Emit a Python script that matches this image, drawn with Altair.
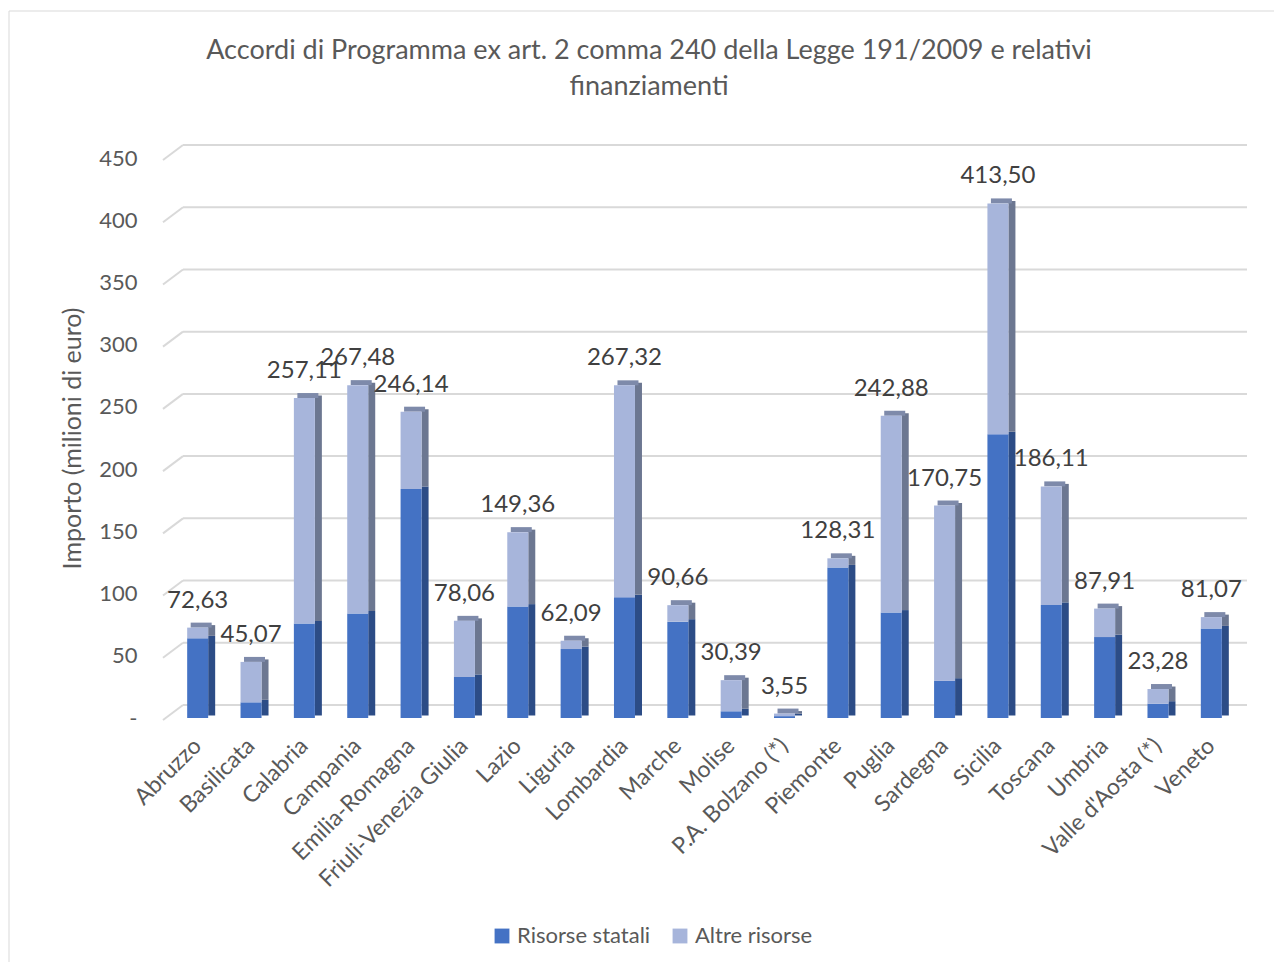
import altair as alt
import pandas as pd

regions = ["Abruzzo", "Basilicata", "Calabria", "Campania", "Emilia-Romagna",
           "Friuli-Venezia Giulia", "Lazio", "Liguria", "Lombardia", "Marche",
           "Molise", "P.A. Bolzano (*)", "Piemonte", "Puglia", "Sardegna",
           "Sicilia", "Toscana", "Umbria", "Valle d'Aosta (*)", "Veneto"]
totals = [72.63, 45.07, 257.11, 267.48, 246.14, 78.06, 149.36, 62.09, 267.32, 90.66,
          30.39, 3.55, 128.31, 242.88, 170.75, 413.50, 186.11, 87.91, 23.28, 81.07]
statali = [64.0, 12.6, 76.0, 84.0, 184.0, 33.0, 89.5, 55.4, 97.0, 77.4,
           5.4, 1.5, 121.0, 84.7, 30.0, 228.0, 90.9, 65.0, 11.5, 72.0]
altre = [8.63, 32.47, 181.11, 183.48, 62.14, 45.06, 59.86, 6.69, 170.32, 13.26,
         24.99, 2.05, 7.31, 158.18, 140.75, 185.50, 95.21, 22.91, 11.78, 9.07]
series = ["Risorse statali", "Altre risorse"]
y_ticks = [0, 50, 100, 150, 200, 250, 300, 350, 400, 450]
title_lines = ["Accordi di Programma ex art. 2 comma 240 della Legge 191/2009 e relativi",
               "finanziamenti"]

rows = []
for r, s, a in zip(regions, statali, altre):
    rows.append({"Regione": r, "Serie": series[0], "Valore": s, "ordine": 0})
    rows.append({"Regione": r, "Serie": series[1], "Valore": a, "ordine": 1})
df = pd.DataFrame(rows)
tot = pd.DataFrame({"Regione": regions, "Totale": totals,
                    "Etichetta": [f"{v:.2f}".replace(".", ",") for v in totals]})
grid = pd.DataFrame({"v": y_ticks})
one = pd.DataFrame({"a": [0]})

W, H = 1067, 560
FONT = "Lato"
TXT = "#595959"

xscale = alt.Scale(domain=regions, paddingInner=0.3, paddingOuter=0.15)
yscale = alt.Scale(domain=[0, 450], nice=False, zero=True)
x_axis = alt.Axis(labelAngle=-45, labelAlign="right", labelBaseline="middle",
                  labelFontSize=23, labelColor=TXT, labelFont=FONT, labelPadding=24,
                  labelLimit=400, labelOverlap=False,
                  ticks=False, domain=False, grid=False, zindex=2)
y_axis = alt.Axis(values=y_ticks, grid=False, domain=False, ticks=False,
                  labelExpr="datum.value == 0 ? '-' : datum.label",
                  labelPadding=34, labelFontSize=22, labelColor=TXT, labelFont=FONT,
                  titleFontSize=25, titleColor=TXT, titleFont=FONT, titleFontWeight="normal",
                  titleX=-99, titleY=H / 2, titleAngle=-90, titleAlign="center",
                  titleBaseline="middle", zindex=2)
YT = "Importo (milioni di euro)"


def X():
    return alt.X("Regione:N", sort=regions, scale=xscale, title=None, axis=x_axis)


border = alt.Chart(one).mark_rect(fill="transparent", stroke="#D9D9D9", strokeWidth=1).encode(
    x=alt.value(-162), x2=alt.value(1104), y=alt.value(-147), y2=alt.value(810))

title1 = alt.Chart(one).mark_text(fontSize=27, color=TXT, font=FONT, align="center",
                                  baseline="middle").encode(
    x=alt.value(649 - 171), y=alt.value(51 - 158), text=alt.value(title_lines[0]))
title2 = alt.Chart(one).mark_text(fontSize=27, color=TXT, font=FONT, align="center",
                                  baseline="middle").encode(
    x=alt.value(649 - 171), y=alt.value(87 - 158), text=alt.value(title_lines[1]))

grid_h = alt.Chart(grid).mark_rule(color="#D9D9D9", strokeWidth=2, yOffset=-13).encode(
    x=alt.value(12), x2=alt.value(1076),
    y=alt.Y("v:Q", scale=yscale, title=YT, axis=y_axis))
grid_s = alt.Chart(grid).mark_rule(color="#D9D9D9", strokeWidth=2, yOffset=2, y2Offset=-13).encode(
    x=alt.value(-8), x2=alt.value(12),
    y=alt.Y("v:Q", scale=yscale, title=YT, axis=y_axis), y2="v:Q")

side = alt.Chart(df).mark_bar(width=7, xOffset=14, yOffset=-2.5, y2Offset=-2.5).encode(
    x=X(),
    y=alt.Y("Valore:Q", stack="zero", scale=yscale, title=YT, axis=y_axis),
    color=alt.Color("Serie:N", scale=alt.Scale(domain=series, range=["#2C4C86", "#6C7791"]), legend=None),
    order=alt.Order("ordine:Q"))

top = alt.Chart(tot).mark_bar(width=21, xOffset=3.5, color="#7E8AAA", yOffset=-5).encode(
    x=X(),
    y=alt.Y("Totale:Q", scale=yscale, title=YT, axis=y_axis), y2="Totale:Q")

front = alt.Chart(df).mark_bar(width=21).encode(
    x=X(),
    y=alt.Y("Valore:Q", stack="zero", scale=yscale, title=YT, axis=y_axis),
    color=alt.Color("Serie:N", scale=alt.Scale(domain=series, range=["#4472C4", "#A7B5DB"]),
                    legend=alt.Legend(title=None, orient="none", legendX=320, legendY=767,
                                      direction="horizontal", symbolType="square", symbolSize=220,
                                      symbolStrokeWidth=0, labelFontSize=22, labelColor=TXT,
                                      labelFont=FONT, columnPadding=18)),
    order=alt.Order("ordine:Q"))

labels = alt.Chart(tot).mark_text(fontSize=24, color="#404040", font=FONT, baseline="bottom", dy=-15).encode(
    x=X(),
    y=alt.Y("Totale:Q", scale=yscale, title=YT, axis=y_axis),
    text="Etichetta:N")

chart = alt.layer(border, title1, title2, grid_h, grid_s, side, top, front, labels).resolve_scale(
    color="independent"
).properties(
    width=W, height=H,
    padding={"left": 163, "top": 150, "right": 36, "bottom": 244},
    autosize=alt.AutoSizeParams(type="none"),
).configure(font=FONT, view=alt.ViewConfig(stroke=None))

chart.save("out.html", embed_options={"renderer": "svg", "actions": False})
